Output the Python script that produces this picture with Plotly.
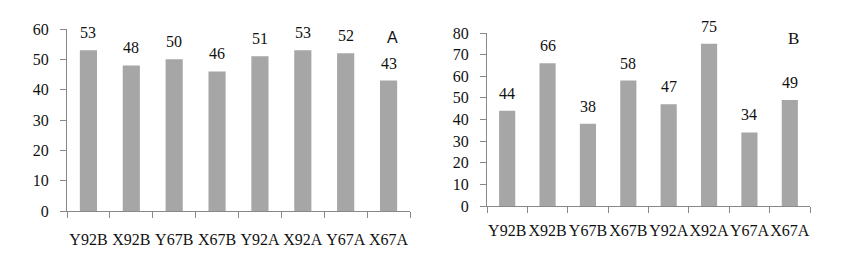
import plotly.graph_objects as go

categories = ["Y92B", "X92B", "Y67B", "X67B", "Y92A", "X92A", "Y67A", "X67A"]
values_a = [53, 48, 50, 46, 51, 53, 52, 43]
values_b = [44, 66, 38, 58, 47, 75, 34, 49]
yticks_a = [0, 10, 20, 30, 40, 50, 60]
yticks_b = [0, 10, 20, 30, 40, 50, 60, 70, 80]

BAR = "#a6a6a6"
AX = "#888888"
SERIF = "Liberation Serif, Times New Roman, serif"
W, H = 850, 265
OFF = 8  # page body margin


def px(x):
    return (x - OFF) / W


def py(y):
    return (H - (y - OFF)) / H


fig = go.Figure()
fig.add_trace(go.Bar(x=categories, y=values_a, xaxis="x", yaxis="y",
                     marker=dict(color=BAR, line=dict(width=0)), width=0.4))
fig.add_trace(go.Bar(x=categories, y=values_b, xaxis="x2", yaxis="y2",
                     marker=dict(color=BAR, line=dict(width=0)), width=0.4))

annotations = []
for c, v in zip(categories, values_a):
    annotations.append(dict(x=c, y=v, xref="x", yref="y", text=str(v), showarrow=False,
                            yanchor="bottom", yshift=7, font=dict(family=SERIF, size=16, color="#111")))
for c, v in zip(categories, values_b):
    annotations.append(dict(x=c, y=v, xref="x2", yref="y2", text=str(v), showarrow=False,
                            yanchor="bottom", yshift=7, font=dict(family=SERIF, size=16, color="#111")))
annotations.append(dict(x=px(392), y=py(38), xref="paper", yref="paper", text="A", showarrow=False,
                        xanchor="center", yanchor="middle",
                        font=dict(family="Liberation Sans, Arial, sans-serif", size=16, color="#111")))
annotations.append(dict(x=px(793), y=py(39), xref="paper", yref="paper", text="B", showarrow=False,
                        xanchor="center", yanchor="middle",
                        font=dict(family=SERIF, size=17, color="#111")))

xcommon = dict(type="category", range=[-0.5, 7.5], showline=True, linecolor=AX, linewidth=1,
               ticks="outside", tickson="boundaries", ticklen=6, tickcolor=AX, tickangle=0,
               tickfont=dict(family=SERIF, size=16, color="#111"), showgrid=False, zeroline=False,
               automargin=False)
ycommon = dict(showline=True, linecolor=AX, linewidth=1, ticks="outside", ticklen=6, tickcolor=AX,
               tickfont=dict(family=SERIF, size=16, color="#111"), showgrid=False, zeroline=False,
               ticklabelstandoff=8, automargin=False)

fig.update_layout(
    width=W, height=H, margin=dict(l=0, r=0, t=0, b=0, autoexpand=False),
    paper_bgcolor="white", plot_bgcolor="white", showlegend=False, bargap=0.6,
    xaxis=dict(xcommon, domain=[px(67), px(410)], anchor="y", ticklabelstandoff=14),
    yaxis=dict(ycommon, domain=[py(211), py(29)], anchor="x", range=[0, 60],
               tickvals=yticks_a),
    xaxis2=dict(xcommon, domain=[px(487), px(810)], anchor="y2", ticklabelstandoff=10),
    yaxis2=dict(ycommon, domain=[py(206), py(33)], anchor="x2", range=[0, 80],
                tickvals=yticks_b),
    annotations=annotations,
)

fig.write_html("out.html")
